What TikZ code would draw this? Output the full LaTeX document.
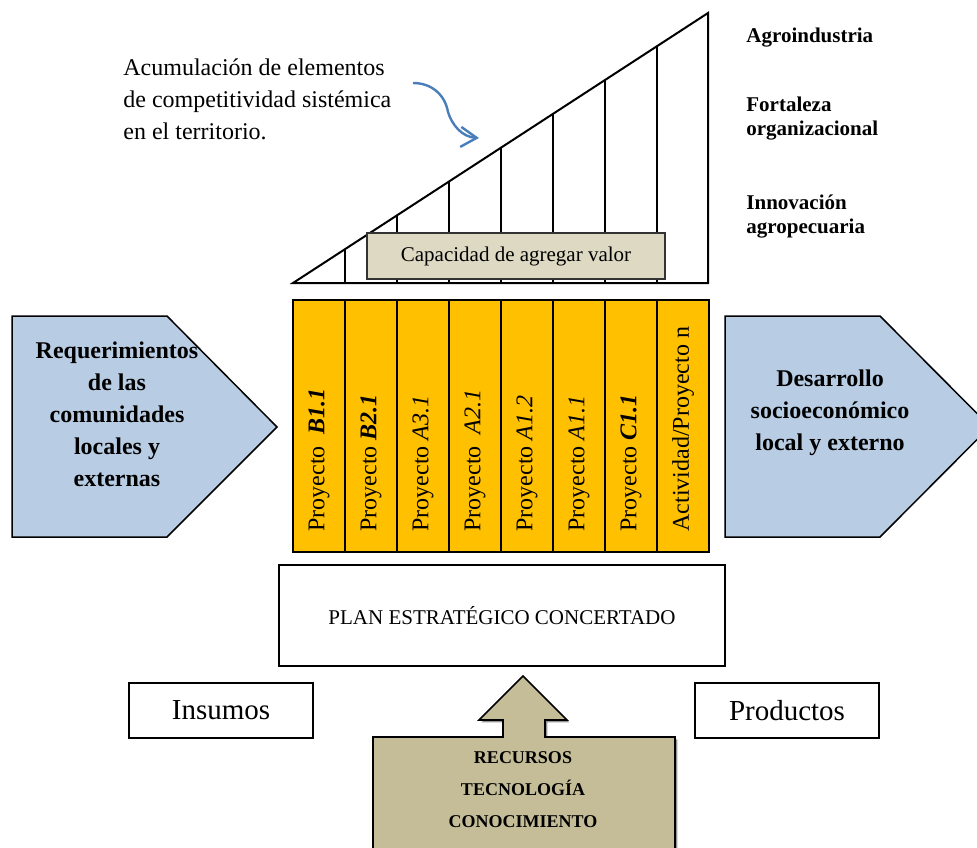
\documentclass[tikz,border=0pt]{standalone}
\usepackage{fontspec}
\setmainfont{Liberation Serif}
\usetikzlibrary{arrows.meta,shadows,calc}

\definecolor{projyellow}{HTML}{FFC000}
\definecolor{paleblue}{HTML}{B8CCE4}
\definecolor{paletan}{HTML}{DDD9C3}
\definecolor{deeptan}{HTML}{C4BD97}
\definecolor{curveblue}{HTML}{4A7EBB}

\tikzset{
  ramp/.style={draw=black, line width=1pt},
  outline/.style={draw=black, line width=0.75pt},
  projcol/.style={outline, fill=projyellow},
  coltext/.style={rotate=90, anchor=west, inner sep=0pt, font=\fontsize{12}{14}\selectfont},
  sidearrow/.style={outline, fill=paleblue},
  sidetext/.style={align=center, inner sep=0pt, font=\fontsize{12}{16}\selectfont\bfseries},
  notetext/.style={align=left, anchor=north west, inner sep=0pt, font=\fontsize{12}{16}\selectfont},
  axislabel/.style={align=left, anchor=base west, inner sep=0pt, font=\fontsize{10.5}{12}\selectfont\bfseries},
  valuebox/.style={draw=black!80, line width=0.6pt, fill=paletan, minimum width=149pt, minimum height=23pt, inner sep=0pt, font=\fontsize{10.5}{12}\selectfont},
  planbox/.style={draw=black, line width=0.6pt, fill=white, minimum width=223pt, minimum height=50.5pt, inner sep=0pt, font=\fontsize{10.5}{12}\selectfont},
  iobox/.style={draw=black, line width=0.6pt, fill=white, minimum width=92pt, minimum height=27.5pt, inner sep=0pt, font=\fontsize{14.5}{16}\selectfont},
  resarrow/.style={draw=black, line width=0.8pt, fill=deeptan,
    drop shadow={shadow xshift=1.2pt, shadow yshift=-1.2pt, opacity=0.6, fill=black!70}},
  restext/.style={align=center, inner sep=0pt, font=\fontsize{9}{16}\selectfont\bfseries},
  curvearrow/.style={draw=curveblue, line width=1.2pt, -{Straight Barb[length=8pt,width=10pt,line width=1.2pt]}}
}

\begin{document}
\begin{tikzpicture}[x=0.5pt,y=-0.5pt]
  \useasboundingbox (0,0) rectangle (977,847);
  \clip (0,0) rectangle (977,847);

  % rising ramp of accumulated capacities
  \draw[ramp] (293,283) -- (708,283) -- (708,13) -- cycle;
  \foreach \x/\t in {345/249.2, 397/215.3, 449/181.5, 501/147.7, 553/113.8, 605/80.0, 657/46.2}
    \draw[ramp] (\x,283) -- (\x,\t);
  \node[valuebox] (valor) at (516,256) {Capacidad de agregar valor};

  % explanatory note and its pointer
  \node[notetext] (nota) at (123,58) {Acumulación de elementos\\de competitividad sistémica\\en el territorio.};
  \coordinate (cstart) at (413,83);
  \coordinate (cend) at (479,138);
  \draw[curvearrow] (cstart) .. controls (432,83) and (445,95) .. (448,112)
                    .. controls (452,125) and (462,137) .. (cend);

  % labels beside the ramp (anchored on the baseline of their last line)
  \node[axislabel] (agro) at (746,42) {Agroindustria};
  \node[axislabel] (forta) at (746,135) {Fortaleza\\organizacional};
  \node[axislabel] (innov) at (746,233) {Innovación\\agropecuaria};

  % project columns
  \foreach \i in {0,...,7}
    \draw[projcol] ({293+52*\i},300) rectangle ({345+52*\i},552);
  \node[coltext] (p1) at (319,532) {Proyecto\ \ \textbf{\textit{B1.1}}};
  \node[coltext] (p2) at (371,532) {Proyecto \textbf{\textit{B2.1}}};
  \node[coltext] (p3) at (423,532) {Proyecto \textit{A3.1}};
  \node[coltext] (p4) at (475,532) {Proyecto\ \ \textit{A2.1}};
  \node[coltext] (p5) at (527,532) {Proyecto \textit{A1.2}};
  \node[coltext] (p6) at (579,532) {Proyecto \textit{A1.1}};
  \node[coltext] (p7) at (631,532) {Proyecto \textbf{\textit{C1.1}}};
  \node[coltext] (p8) at (683,532) {Actividad/Proyecto n};

  % inflow and outflow arrows
  \draw[sidearrow] (12,316) -- (167,316) -- (277,427) -- (167,537) -- (12,537) -- cycle;
  \node[sidetext] (req) at (117,414) {Requerimientos\\de las\\comunidades\\locales y\\externas};
  \draw[sidearrow] (725,316) -- (880,316) -- (990,426.5) -- (880,537) -- (725,537) -- cycle;
  \node[sidetext] (des) at (830,413) {Desarrollo\\socioeconómico\\local y externo};

  % plan and input/output boxes
  \node[planbox] (plan) at (502,615.5) {PLAN ESTRATÉGICO CONCERTADO};
  \node[iobox] (insumos) at (221,710.5) {Insumos};
  \node[iobox] (productos) at (787,710.5) {Productos};

  % resources pushing up into the plan
  \path[resarrow] (523,676) -- (567,720) -- (545,720) -- (545,737) -- (675,737)
    -- (675,860) -- (373,860) -- (373,737) -- (503,737) -- (503,720) -- (479,720) -- cycle;
  \node[restext] (recursos) at (523,790) {RECURSOS\\TECNOLOGÍA\\CONOCIMIENTO};
\end{tikzpicture}
\end{document}
